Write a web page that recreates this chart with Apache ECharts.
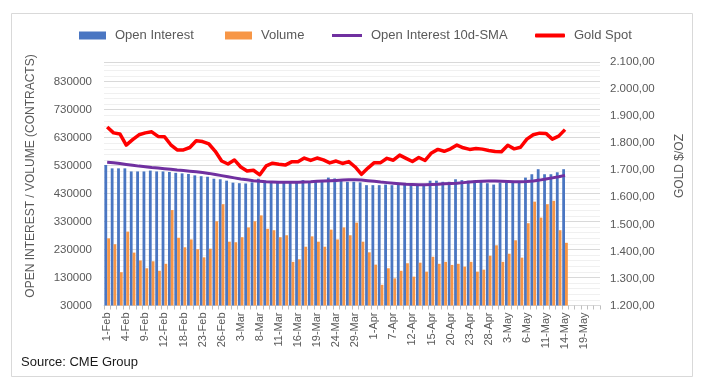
<!DOCTYPE html>
<html>
<head>
<meta charset="utf-8">
<script src="https://cdn.jsdelivr.net/npm/echarts@6/dist/echarts.min.js"></script>
<style>
html,body{margin:0;padding:0;background:#fff;}
#chart{width:708px;height:389px;}
</style>
</head>
<body>
<div id="chart"></div>
<script>
// Trading-day categories (axis runs a few days past the data)
const categories = [
  "1-Feb","2-Feb","3-Feb","4-Feb","5-Feb","8-Feb","9-Feb","10-Feb","11-Feb","12-Feb",
  "16-Feb","17-Feb","18-Feb","19-Feb","22-Feb","23-Feb","24-Feb","25-Feb","26-Feb",
  "1-Mar","2-Mar","3-Mar","4-Mar","5-Mar","8-Mar","9-Mar","10-Mar","11-Mar","12-Mar",
  "15-Mar","16-Mar","17-Mar","18-Mar","19-Mar","22-Mar","23-Mar","24-Mar","25-Mar","26-Mar",
  "29-Mar","30-Mar","31-Mar",
  "1-Apr","5-Apr","6-Apr","7-Apr","8-Apr","9-Apr","12-Apr","13-Apr","14-Apr","15-Apr","16-Apr",
  "19-Apr","20-Apr","21-Apr","22-Apr","23-Apr","26-Apr","27-Apr","28-Apr","29-Apr","30-Apr",
  "3-May","4-May","5-May","6-May","7-May","10-May","11-May","12-May","13-May","14-May",
  "17-May","18-May","19-May","20-May","21-May"
];

const openInterest = [
  532000,520000,520000,520000,509000,509000,509000,512000,509000,509000,
  507000,504000,502000,500000,495000,492000,490000,483000,481000,
  476000,469000,467000,466000,470000,483000,470000,472000,470000,469000,
  469000,470000,478000,474000,472000,474000,487000,484000,478000,472000,
  472000,470000,460000,
  460000,460000,462000,460000,467000,462000,460000,460000,460000,476000,476000,
  472000,472000,481000,478000,476000,476000,476000,467000,462000,469000,
  470000,470000,470000,487000,499000,517000,499000,499000,506000,517000
];

const volume = [
  270000,249000,149000,294000,219000,191000,163000,188000,154000,179000,
  371000,272000,238000,266000,231000,202000,233000,331000,392000,
  258000,256000,274000,309000,331000,352000,304000,299000,274000,281000,
  186000,195000,240000,277000,258000,240000,301000,266000,309000,281000,
  326000,258000,220000,
  176000,104000,163000,127000,154000,181000,133000,183000,151000,204000,179000,
  186000,175000,179000,169000,186000,151000,158000,208000,245000,186000,
  215000,263000,201000,324000,401000,344000,392000,404000,299000,254000
];

const openInterestSMA = [
  542000,540000,537000,534000,531000,528000,526000,523000,521000,519000,
  517000,514000,512000,510000,508000,505000,502000,498000,494000,
  490000,486000,482000,479000,476000,474000,472000,471000,470000,470000,
  470000,470000,471000,472000,474000,475000,476000,477000,478000,479000,
  479000,478000,476000,
  474000,471000,469000,467000,465000,463000,462000,461000,461000,462000,463000,
  465000,466000,467000,469000,471000,473000,474000,475000,475000,474000,
  473000,472000,472000,473000,475000,478000,482000,486000,490000,495000
];

const goldSpot = [
  1860,1838,1834,1793,1813,1831,1838,1842,1825,1824,
  1794,1775,1775,1784,1809,1806,1797,1770,1734,
  1723,1738,1712,1697,1700,1683,1716,1726,1722,1719,
  1731,1731,1745,1736,1745,1738,1727,1734,1725,1732,
  1712,1685,1708,
  1728,1728,1744,1737,1756,1744,1732,1747,1736,1764,1777,
  1770,1779,1793,1783,1777,1780,1778,1773,1769,1768,
  1792,1779,1785,1815,1831,1837,1836,1815,1826,1850
];

const leftTicks = {min: 30000, max: 900000, interval: 100000};
const rightTicks = {min: 1200, max: 2100, interval: 100};

const FONT = "'Liberation Sans', Arial, sans-serif";
const GREY = '#595959';

function fmtGold(v) {
  const s = Math.round(v).toString();
  const withDots = s.replace(/\B(?=(\d{3})+(?!\d))/g, '.');
  return withDots + ',00';
}

const chart = echarts.init(document.getElementById('chart'), null, {renderer: 'canvas'});

const legendBase = {
  top: 24,
  itemHeight: 8,
  textStyle: {fontFamily: FONT, fontSize: 13, color: GREY, padding: [0, 0, 0, 4]},
  selectedMode: false
};

chart.setOption({
  animation: false,
  backgroundColor: '#ffffff',
  textStyle: {fontFamily: FONT},
  graphic: [
    {type: 'rect', shape: {x: 11.5, y: 13.5, width: 681, height: 363},
     style: {fill: 'none', stroke: '#d9d9d9', lineWidth: 1}, silent: true, z: -1},
    {type: 'text', x: 21, y: 356,
     style: {text: 'Source: CME Group', font: '13px ' + FONT, fill: '#1a1a1a',
             shadowColor: 'rgba(0,0,0,0.45)', shadowBlur: 3, shadowOffsetX: 1.5, shadowOffsetY: 2}},
    {type: 'text', x: 25, y: 176, rotation: Math.PI / 2,
     style: {text: 'OPEN INTEREST / VOLUME (CONTRACTS)', font: '12px ' + FONT, fill: GREY,
             align: 'center', verticalAlign: 'top'}},
    {type: 'text', x: 674, y: 166, rotation: Math.PI / 2,
     style: {text: 'GOLD $/OZ', font: '12px ' + FONT, fill: GREY,
             align: 'center', verticalAlign: 'top'}}
  ],
  legend: [
    Object.assign({}, legendBase, {left: 74, itemWidth: 27, data: [{name: 'Open Interest', icon: 'rect'}]}),
    Object.assign({}, legendBase, {left: 220, itemWidth: 27, data: [{name: 'Volume', icon: 'rect'}]}),
    Object.assign({}, legendBase, {left: 327, itemWidth: 30, itemHeight: 3,
      data: [{name: 'Open Interest 10d-SMA', icon: 'rect'}]}),
    Object.assign({}, legendBase, {left: 530, itemWidth: 30, itemHeight: 4,
      data: [{name: 'Gold Spot', icon: 'roundRect'}]})
  ],
  grid: {left: 104, right: 108, top: 62, bottom: 83.5, containLabel: false},
  xAxis: {
    type: 'category',
    data: categories,
    boundaryGap: true,
    axisLine: {show: true, lineStyle: {color: '#d9d9d9', width: 1}},
    axisTick: {show: true, interval: 0, length: 4, lineStyle: {color: '#bfbfbf'}},
    axisLabel: {interval: 2, rotate: 90, margin: 7, fontSize: 11, color: GREY, fontFamily: FONT}
  },
  yAxis: [
    {
      type: 'value',
      min: leftTicks.min, max: leftTicks.max, interval: leftTicks.interval,
      axisLine: {show: false}, axisTick: {show: false},
      axisLabel: {showMaxLabel: false, fontSize: 11.5, color: GREY, margin: 12, fontFamily: FONT,
                  formatter: function (v) { return String(v); }},
      splitLine: {show: true, lineStyle: {color: '#d9d9d9', width: 1}},
      minorTick: {show: false, splitNumber: 5},
      minorSplitLine: {show: true, lineStyle: {color: '#f0f0f0', width: 1}}
    },
    {
      type: 'value',
      min: rightTicks.min, max: rightTicks.max, interval: rightTicks.interval,
      position: 'right',
      axisLine: {show: false}, axisTick: {show: false},
      axisLabel: {fontSize: 11.5, color: GREY, margin: 10, fontFamily: FONT, formatter: fmtGold},
      splitLine: {show: false}
    }
  ],
  series: [
    {name: 'Open Interest', type: 'bar', yAxisIndex: 0, data: openInterest,
     itemStyle: {color: '#4a76c2'}, barGap: '0%', barCategoryGap: '12%'},
    {name: 'Volume', type: 'bar', yAxisIndex: 0, data: volume,
     itemStyle: {color: '#f79646'}, barGap: '0%', barCategoryGap: '12%'},
    {name: 'Open Interest 10d-SMA', type: 'line', yAxisIndex: 0, data: openInterestSMA,
     symbol: 'none', lineStyle: {color: '#7030a0', width: 3}, itemStyle: {color: '#7030a0'}, z: 3},
    {name: 'Gold Spot', type: 'line', yAxisIndex: 1, data: goldSpot,
     symbol: 'none', lineStyle: {color: '#ff0000', width: 3.5, join: 'round'}, itemStyle: {color: '#ff0000'}, z: 4}
  ]
});
</script>
</body>
</html>
